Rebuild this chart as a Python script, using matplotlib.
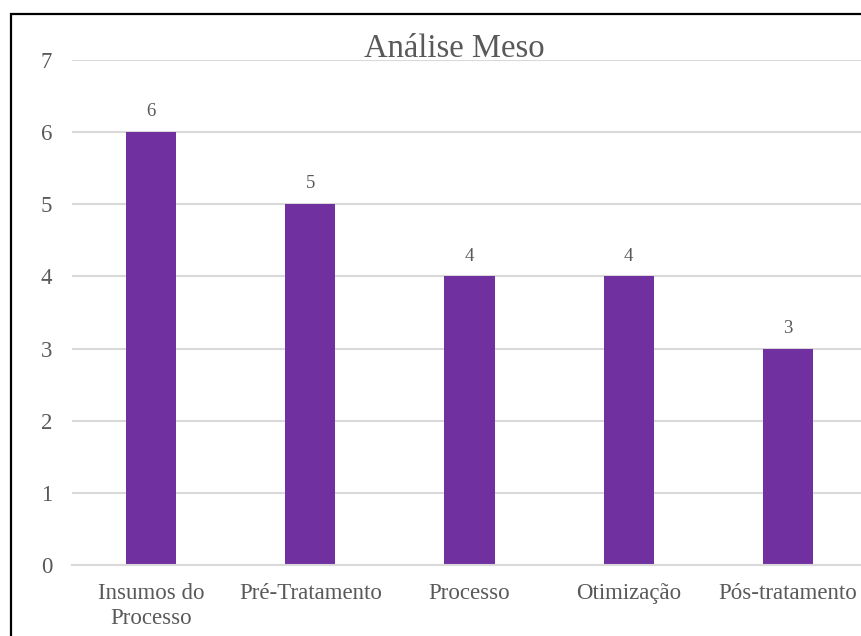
import matplotlib
matplotlib.use("Agg")
import matplotlib.pyplot as plt
from matplotlib.patches import Rectangle

categories = ["Insumos do\nProcesso", "Pré-Tratamento", "Processo", "Otimização", "Pós-tratamento"]
values = [6, 5, 4, 4, 3]
yticks = [0, 1, 2, 3, 4, 5, 6, 7]
title = "Análise Meso"

TEXT = "#595959"
GRID = "#D9D9D9"
BAR = "#7030A0"

plt.rcParams["font.family"] = ["Liberation Serif", "DejaVu Serif"]

W, H = 861, 636
fig = plt.figure(figsize=(W / 100, H / 100), dpi=100)
fig.patch.set_facecolor("white")

# plot area (pixel geometry converted to figure fractions)
left, right, top, bottom = 71.5, 867.5, 60, 565
ax = fig.add_axes([left / W, (H - bottom) / H, (right - left) / W, (bottom - top) / H])

x = range(len(categories))
ax.bar(x, values, width=0.315, color=BAR, zorder=3)

for xi, v in zip(x, values):
    ax.annotate(str(v), (xi, v), xytext=(0, 8.5), textcoords="offset points",
                ha="center", va="bottom", fontsize=13.5, color=TEXT)

ax.set_xlim(-0.5, len(categories) - 0.5)
ax.set_ylim(0, 7)
ax.set_yticks(yticks)
ax.set_yticklabels([str(t) for t in yticks], fontsize=16.5, color=TEXT)
ax.set_xticks(list(x))
ax.set_xticklabels(categories, fontsize=16.5, color=TEXT, linespacing=1.25)
ax.tick_params(axis="both", length=0)
ax.tick_params(axis="y", pad=14)
ax.tick_params(axis="x", pad=13)

ax.grid(axis="y", color=GRID, linewidth=1.5, zorder=0)
for s in ["top", "right", "left"]:
    ax.spines[s].set_visible(False)
ax.spines["bottom"].set_color(GRID)
ax.spines["bottom"].set_linewidth(1.5)
ax.spines["bottom"].set_zorder(4)

fig.text(454 / W, (H - 49) / H, title, ha="center", va="center",
         fontsize=23.5, color=TEXT)

# chart frame border (runs off the right and bottom edges)
fig.patches.append(Rectangle((11 / W, -0.1), 1.2, (H - 14) / H + 0.1,
                             transform=fig.transFigure, fill=False,
                             edgecolor="black", linewidth=1.6, zorder=10))

fig.savefig("out.png", dpi=100)
